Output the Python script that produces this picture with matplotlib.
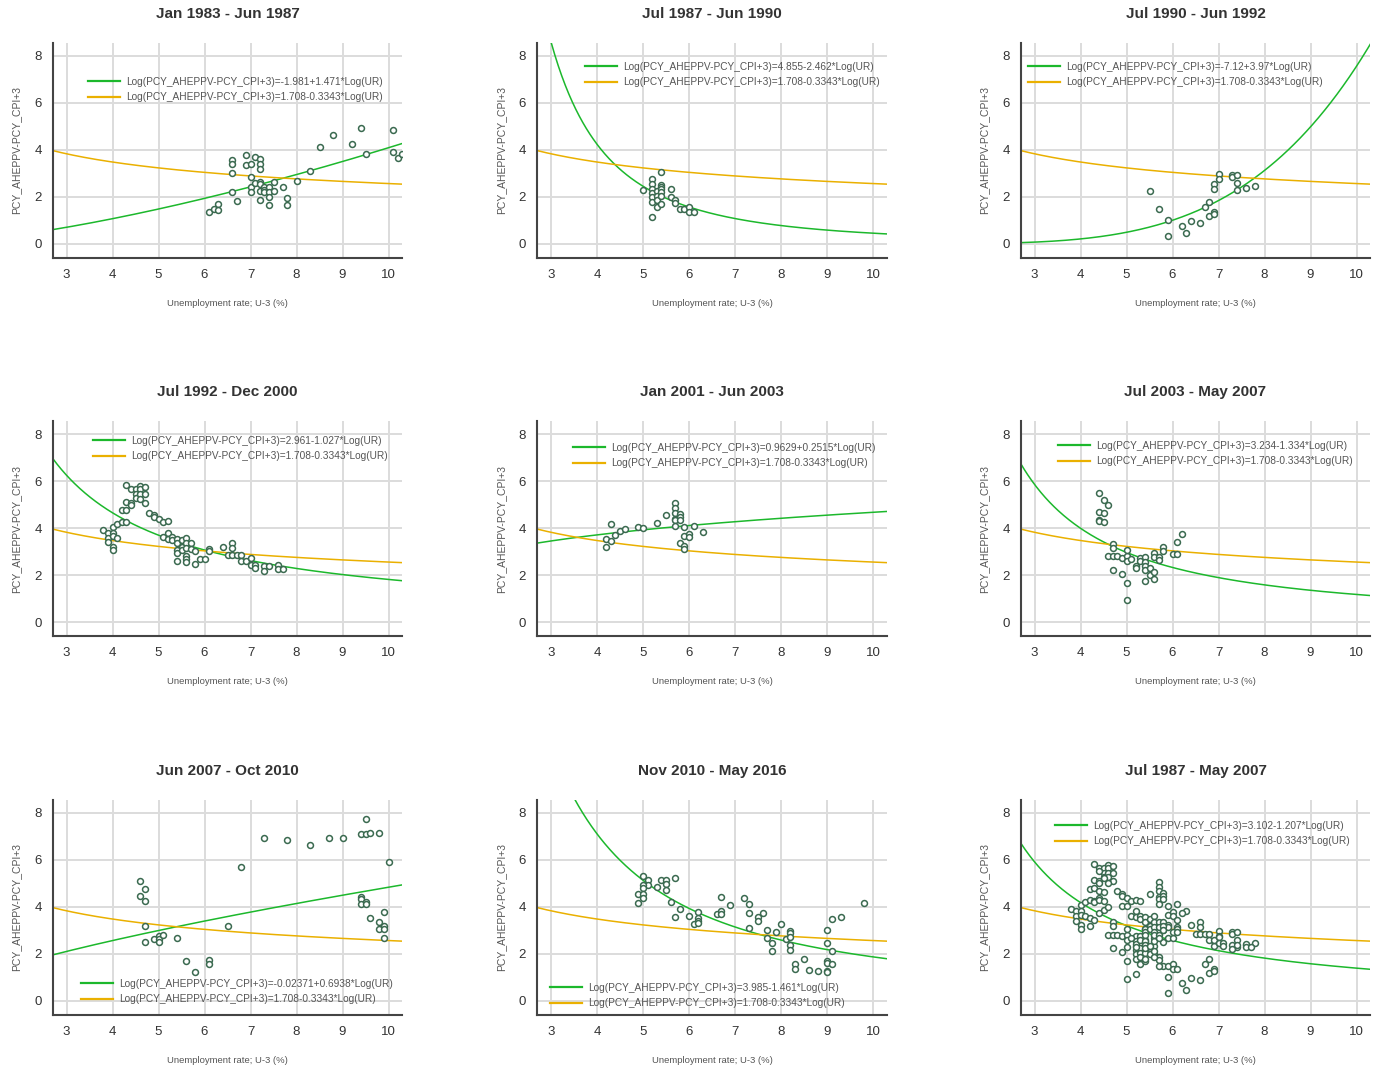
import numpy as np
import matplotlib
matplotlib.use("Agg")
import matplotlib.pyplot as plt

plt.rcParams['font.family'] = ['Liberation Sans', 'DejaVu Sans']

# ---------------- data ----------------
titles = ["Jan 1983 - Jun 1987", "Jul 1987 - Jun 1990", "Jul 1990 - Jun 1992",
          "Jul 1992 - Dec 2000", "Jan 2001 - Jun 2003", "Jul 2003 - May 2007",
          "Jun 2007 - Oct 2010", "Nov 2010 - May 2016", "Jul 1987 - May 2007"]

# fitted coefficients: Log(y) = a + b*Log(UR)
fit_a = [-1.981, 4.855, -7.12, 2.961, 0.9629, 3.234, -0.02371, 3.985, 3.102]
fit_b = [1.471, -2.462, 3.97, -1.027, 0.2515, -1.334, 0.6938, -1.461, -1.207]
fit_a_str = ["-1.981", "4.855", "-7.12", "2.961", "0.9629", "3.234", "-0.02371", "3.985", "3.102"]
fit_b_str = ["+1.471", "-2.462", "+3.97", "-1.027", "+0.2515", "-1.334", "+0.6938", "-1.461", "-1.207"]
base_a = 1.708
base_b = -0.3343

ur_p1 = [6.1, 6.2, 6.3, 6.3, 6.6, 6.6, 6.6, 6.6, 6.7, 6.9, 6.9, 7.0, 7.0, 7.0, 7.0, 7.1, 7.1,
         7.2, 7.2, 7.2, 7.2, 7.2, 7.2, 7.2, 7.3, 7.3, 7.3, 7.4, 7.4, 7.4, 7.4, 7.5, 7.5, 7.7,
         7.8, 7.8, 8.0, 8.3, 8.5, 8.8, 9.2, 9.4, 9.5, 10.1, 10.1, 10.2, 10.3]
rw_p1 = [1.33, 1.49, 1.69, 1.45, 3.56, 3.38, 2.99, 2.18, 1.81, 3.75, 3.36, 3.37, 2.84, 2.42, 2.21,
         3.70, 2.56, 3.62, 3.37, 3.17, 2.63, 2.55, 2.22, 1.85, 2.42, 2.30, 2.18, 2.42, 2.21, 2.00,
         1.63, 2.61, 2.22, 2.39, 1.94, 1.64, 2.68, 3.07, 4.09, 4.63, 4.26, 4.94, 3.81, 4.84, 3.90,
         3.63, 3.80]

ur_p2 = [5.4, 5.0, 5.2, 5.2, 5.2, 5.2, 5.2, 5.2, 5.2, 5.3, 5.3, 5.3, 5.3, 5.4, 5.4, 5.4, 5.4,
         5.4, 5.4, 5.6, 5.6, 5.7, 5.7, 5.8, 5.9, 6.0, 6.0, 6.1]
rw_p2 = [3.04, 2.28, 2.73, 2.53, 2.34, 2.14, 1.97, 1.78, 1.12, 2.24, 2.04, 1.86, 1.55, 2.49, 2.42,
         2.31, 2.20, 2.03, 1.67, 2.31, 2.00, 1.86, 1.74, 1.49, 1.49, 1.56, 1.36, 1.35]

ur_p3 = [5.5, 5.7, 5.9, 5.9, 6.2, 6.3, 6.4, 6.6, 6.7, 6.8, 6.8, 6.9, 6.9, 6.9, 6.9, 7.0, 7.0,
         7.3, 7.3, 7.4, 7.4, 7.4, 7.6, 7.8]
rw_p3 = [2.25, 1.47, 0.99, 0.34, 0.74, 0.47, 0.95, 0.87, 1.56, 1.76, 1.16, 1.36, 1.25, 2.54, 2.34,
         2.96, 2.73, 2.93, 2.82, 2.90, 2.59, 2.29, 2.37, 2.46]

ur_p4 = [3.8, 3.9, 3.9, 3.9, 4.0, 4.0, 4.0, 4.0, 4.0, 4.1, 4.1, 4.2, 4.2, 4.3, 4.3, 4.3, 4.3,
         4.4, 4.4, 4.4, 4.5, 4.5, 4.5, 4.6, 4.6, 4.6, 4.6, 4.7, 4.7, 4.7, 4.8, 4.9, 4.9, 5.0,
         5.1, 5.2, 5.1, 5.2, 5.2, 5.3, 5.3, 5.4, 5.4, 5.4, 5.4, 5.4, 5.5, 5.5, 5.5, 5.6, 5.6,
         5.6, 5.6, 5.6, 5.6, 5.7, 5.7, 5.8, 5.8, 5.9, 6.0, 6.1, 6.1, 6.4, 6.5, 6.6, 6.6, 6.6,
         6.7, 6.8, 6.8, 6.9, 7.0, 7.0, 7.1, 7.1, 7.3, 7.3, 7.4, 7.6, 7.6, 7.7]
rw_p4 = [3.90, 3.80, 3.59, 3.39, 4.06, 3.80, 3.66, 3.21, 3.06, 4.18, 3.59, 4.77, 4.28, 5.83, 5.12,
         4.78, 4.26, 5.65, 5.08, 4.99, 5.65, 5.45, 5.28, 5.79, 5.65, 5.45, 5.25, 5.74, 5.45, 5.09,
         4.66, 4.54, 4.47, 4.37, 4.26, 4.30, 3.62, 3.80, 3.55, 3.62, 3.48, 3.55, 3.35, 3.06, 2.92,
         2.58, 3.48, 3.19, 3.05, 3.59, 3.35, 3.15, 2.81, 2.67, 2.55, 3.35, 3.12, 3.01, 2.48, 2.67,
         2.67, 3.12, 3.04, 3.21, 2.84, 3.36, 3.15, 2.84, 2.84, 2.84, 2.58, 2.58, 2.72, 2.45, 2.45,
         2.31, 2.38, 2.18, 2.38, 2.42, 2.28, 2.26]

ur_p5 = [4.2, 4.2, 4.3, 4.3, 4.4, 4.5, 4.6, 4.9, 5.0, 5.3, 5.5, 5.7, 5.7, 5.7, 5.7, 5.7, 5.7,
         5.8, 5.8, 5.8, 5.9, 5.9, 6.0, 6.0, 5.8, 5.9, 5.9, 6.1, 6.3]
rw_p5 = [3.52, 3.19, 4.18, 3.45, 3.72, 3.87, 3.97, 4.03, 4.01, 4.23, 4.54, 5.06, 4.84, 4.65, 4.40,
         4.33, 4.11, 4.59, 4.47, 4.33, 4.04, 3.65, 3.75, 3.62, 3.36, 3.22, 3.12, 4.11, 3.83]

ur_p6 = [4.4, 4.5, 4.6, 4.4, 4.5, 4.4, 4.4, 4.5, 4.7, 4.7, 4.6, 4.7, 4.8, 4.9, 5.0, 5.0, 5.0,
         5.1, 5.2, 5.2, 5.3, 5.3, 5.4, 5.4, 5.4, 5.4, 5.4, 5.5, 5.5, 5.6, 5.6, 5.6, 5.6, 5.7,
         5.7, 5.8, 5.8, 6.0, 6.1, 6.1, 6.2, 4.7, 4.9, 5.0, 5.0]
rw_p6 = [5.50, 5.21, 4.99, 4.68, 4.64, 4.35, 4.30, 4.24, 3.33, 3.16, 2.81, 2.81, 2.81, 2.74, 2.81,
         3.05, 2.58, 2.67, 2.40, 2.30, 2.74, 2.60, 2.79, 2.55, 2.37, 2.23, 1.77, 2.31, 1.99, 2.94,
         2.79, 2.12, 1.84, 2.79, 2.65, 3.19, 3.01, 2.91, 2.91, 3.43, 3.73, 2.23, 2.06, 1.67, 0.92]

ur_p7 = [4.6, 4.7, 4.6, 4.7, 4.7, 4.7, 4.9, 5.0, 5.0, 5.0, 5.1, 5.4, 5.6, 5.8, 6.1, 6.1, 6.5,
         6.8, 7.3, 7.8, 8.3, 8.7, 9.0, 9.4, 9.5, 9.6, 9.5, 9.8, 10.0, 9.4, 9.4, 9.4, 9.5, 9.5,
         9.6, 9.8, 9.8, 9.9, 9.9, 9.9, 9.9]
rw_p7 = [5.08, 4.73, 4.44, 4.24, 3.16, 2.51, 2.63, 2.73, 2.62, 2.49, 2.79, 2.65, 1.67, 1.21, 1.74,
         1.55, 3.19, 5.69, 6.92, 6.83, 6.63, 6.92, 6.92, 7.07, 7.10, 7.12, 7.72, 7.12, 5.89, 4.43,
         4.34, 4.09, 4.21, 4.09, 3.52, 3.35, 3.03, 3.76, 3.17, 3.03, 2.68]

ur_p8 = [5.0, 5.1, 5.1, 5.0, 5.0, 4.9, 5.0, 5.0, 4.9, 5.3, 5.4, 5.5, 5.5, 5.5, 5.7, 5.6, 5.8,
         5.7, 6.0, 6.1, 6.2, 6.2, 6.2, 6.2, 6.6, 6.7, 6.7, 6.7, 6.9, 7.2, 7.3, 7.3, 7.3, 7.5,
         7.5, 7.6, 7.7, 7.7, 7.8, 7.8, 7.9, 8.0, 8.1, 8.2, 8.2, 8.2, 8.2, 8.2, 8.3, 8.3, 8.5,
         8.6, 8.8, 9.0, 9.0, 9.0, 9.0, 9.0, 9.0, 9.1, 9.1, 9.1, 9.3, 9.8]
rw_p8 = [5.30, 5.15, 4.92, 4.92, 4.81, 4.52, 4.55, 4.38, 4.17, 4.84, 5.13, 5.13, 4.96, 4.70, 5.22,
         4.18, 3.91, 3.57, 3.62, 3.28, 3.76, 3.50, 3.39, 3.32, 3.67, 4.43, 3.82, 3.69, 4.06, 4.35,
         4.09, 3.74, 3.11, 3.57, 3.40, 3.72, 3.02, 2.68, 2.45, 2.13, 2.91, 3.28, 2.62, 2.98, 2.88,
         2.71, 2.35, 2.14, 1.55, 1.33, 1.76, 1.32, 1.25, 1.67, 1.60, 1.26, 1.21, 3.01, 2.45, 3.48,
         2.09, 1.56, 3.57, 4.14]

# Jul 1987 - May 2007 combines the periods from Jul 1987 through May 2007
ur_p9 = ur_p2 + ur_p3 + ur_p4 + ur_p5 + ur_p6
rw_p9 = rw_p2 + rw_p3 + rw_p4 + rw_p5 + rw_p6

ur_all = [ur_p1, ur_p2, ur_p3, ur_p4, ur_p5, ur_p6, ur_p7, ur_p8, ur_p9]
rw_all = [rw_p1, rw_p2, rw_p3, rw_p4, rw_p5, rw_p6, rw_p7, rw_p8, rw_p9]

x_ticks = [3, 4, 5, 6, 7, 8, 9, 10]
y_ticks = [0, 2, 4, 6, 8]

# ---------------- layout ----------------
W, H = 1377, 1069
fig = plt.figure(figsize=(W / 100, H / 100), dpi=100)

col_left = [52.7, 537.2, 1020.7]
row_top = [42.7, 421.2, 799.7]
ax_w, ax_h = 349.6, 215.0

# legend anchor: (line start px offset from axes left, first row center px from axes top)
leg_pos = [(35.3, 40.3), (47.8, 25.3), (7.3, 25.3),
           (40.3, 20.8), (35.8, 27.8), (37.3, 25.8),
           (28.3, 185.3), (12.8, 189.3), (34.3, 27.3)]

GREEN = '#1cb82c'
YELLOW = '#eab000'
PT_EDGE = '#3b6a50'
GRID = '#dcdcdc'
TXT = '#333333'
LBL = '#555555'

xs = np.linspace(2.7, 10.3, 400)
legend_fs = 7.3
for i in range(9):
    r, c = divmod(i, 3)
    left = col_left[c] / W
    bottom = 1 - (row_top[r] + ax_h) / H
    ax = fig.add_axes([left, bottom, ax_w / W, ax_h / H])
    ax.set_xlim(2.7, 10.3)
    ax.set_ylim(-0.6, 8.55)
    ax.set_xticks(x_ticks)
    ax.set_yticks(y_ticks)
    ax.grid(True, color=GRID, linewidth=1.4, zorder=0)
    ax.set_axisbelow(True)
    for s in ['top', 'right']:
        ax.spines[s].set_visible(False)
    for s in ['left', 'bottom']:
        ax.spines[s].set_color('#444444')
        ax.spines[s].set_linewidth(1.5)
    ax.tick_params(length=0, labelsize=9.5, labelcolor=TXT)
    ax.tick_params(axis='x', pad=8)
    ax.tick_params(axis='y', pad=8)

    a, b = fit_a[i], fit_b[i]
    l1, = ax.plot(xs, np.exp(a + b * np.log(xs)), color=GREEN, linewidth=1.1, zorder=2,
                  label="Log(PCY_AHEPPV-PCY_CPI+3)=%s%s*Log(UR)" % (fit_a_str[i], fit_b_str[i]))
    l2, = ax.plot(xs, np.exp(base_a + base_b * np.log(xs)), color=YELLOW, linewidth=1.1, zorder=2,
                  label="Log(PCY_AHEPPV-PCY_CPI+3)=1.708-0.3343*Log(UR)")
    ax.scatter(ur_all[i], rw_all[i], s=18, facecolor='white', edgecolor=PT_EDGE,
               linewidths=1.1, zorder=3)

    ax.set_title(titles[i], fontsize=11, fontweight='bold', color=TXT, pad=18)
    ax.set_xlabel("Unemployment rate; U-3 (%)", fontsize=6.8, color=LBL, labelpad=13)
    ax.set_ylabel("PCY_AHEPPV-PCY_CPI+3", fontsize=7.5, color=LBL, labelpad=9)

    lx, ly = leg_pos[i]
    fs_px = legend_fs * 100 / 72
    anchor = (lx / ax_w, 1 - (ly - fs_px * 0.6) / ax_h)
    leg = ax.legend(handles=[l1, l2], loc='upper left', bbox_to_anchor=anchor,
                    frameon=False, fontsize=legend_fs, borderpad=0, borderaxespad=0,
                    handlelength=3.2, handletextpad=0.6, labelspacing=0.55)
    for t in leg.get_texts():
        t.set_color('#555555')
    for h in leg.legend_handles:
        h.set_linewidth(1.6)

fig.savefig("out.png", dpi=100)
